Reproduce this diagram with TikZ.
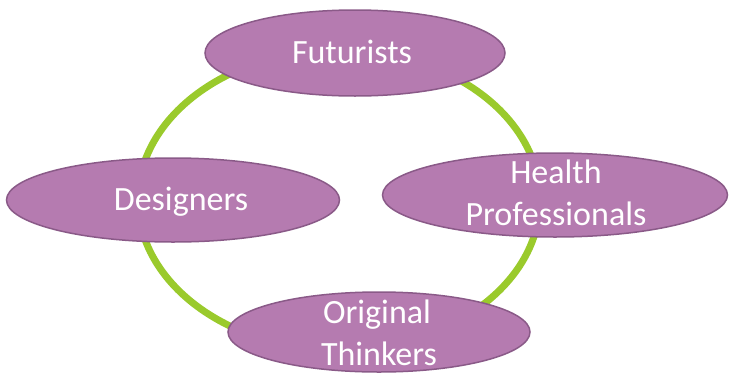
\documentclass[tikz,border=0pt]{standalone}
\usepackage{fontspec}
\setmainfont{Carlito}
\usetikzlibrary{shapes.geometric}
\definecolor{blobfill}{HTML}{B57BB0}
\definecolor{blobline}{HTML}{8A5A88}
\definecolor{ringgreen}{HTML}{9ACA2C}
\tikzset{
  blob/.style={ellipse, fill=blobfill, draw=blobline, line width=1.5pt, inner sep=0pt},
  lbl/.style={text=white, font=\fontsize{34}{42}\selectfont, anchor=base, inner sep=0pt},
  ring/.style={draw=ringgreen, line width=7pt}
}
\begin{document}
\begin{tikzpicture}[x=1pt,y=-1pt]
\useasboundingbox (0,0) rectangle (730,375);
\coordinate (rc) at (339,200);
\draw[ring] (rc) ellipse [x radius=201, y radius=150];
\node[blob, minimum width=300, minimum height=86] (fut) at (355,53) {};
\node[blob, minimum width=345, minimum height=84] (hea) at (555,195) {};
\node[blob, minimum width=333, minimum height=84] (des) at (173,200) {};
\node[blob, minimum width=302, minimum height=80] (ori) at (379,332) {};
\node[lbl] (futt) at (352,63) {Futurists};
\node[lbl] (heat1) at (556,183) {Health};
\node[lbl] (heat2) at (556,225) {Professionals};
\node[lbl] (dest) at (181,210) {Designers};
\node[lbl] (orit1) at (377,323) {Original};
\node[lbl] (orit2) at (379,365) {Thinkers};
\end{tikzpicture}
\end{document}
